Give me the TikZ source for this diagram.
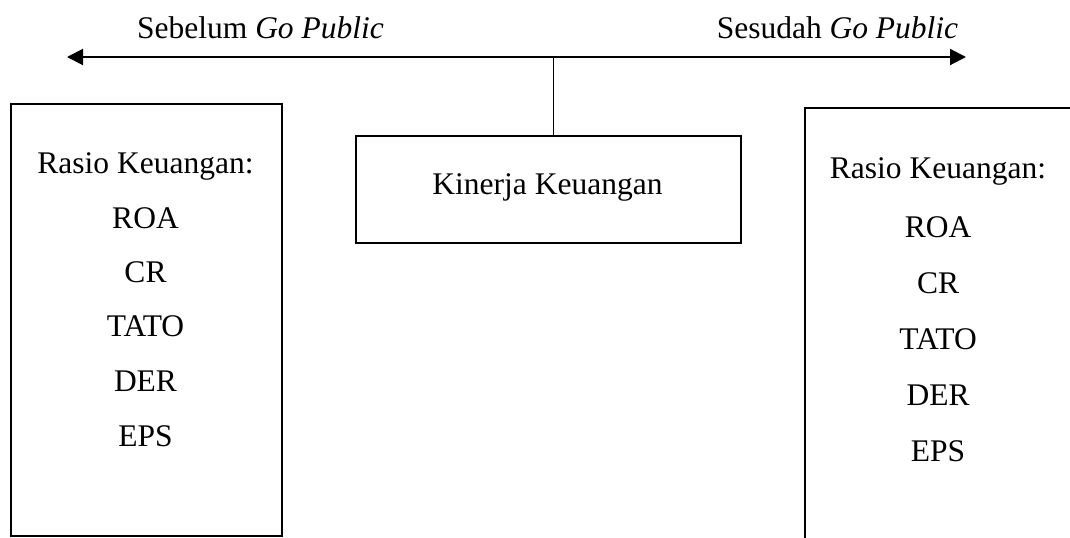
\documentclass[tikz,border=0pt]{standalone}
\usepackage{fontspec}
\setmainfont{Liberation Serif}
\usetikzlibrary{arrows.meta}
\tikzset{
  boxnode/.style={draw, line width=1pt, rectangle, inner sep=0pt, anchor=north west},
  txt/.style={anchor=base, inner sep=0pt, font=\fontsize{15.75}{19}\selectfont},
  axisline/.style={line width=1pt, {Triangle[length=8pt,width=8pt]}-{Triangle[length=8pt,width=8pt]}},
  link/.style={line width=0.5pt}
}
\begin{document}
\begin{tikzpicture}[x=0.5pt, y=-0.5pt]
\useasboundingbox (0,0) rectangle (1070,537);
\clip (0,0) rectangle (1070,537);
% axis with arrows
\coordinate (aL) at (67,57);
\coordinate (aR) at (966,57);
\coordinate (j) at (553,57);
\draw[axisline] (aL) -- (aR);
\node[txt] (tL) at (260.5,38) {Sebelum \textit{Go Public}};
\node[txt] (tR) at (837.5,38) {Sesudah \textit{Go Public}};
% boxes
\node[boxnode, minimum width=135.5pt, minimum height=216pt] (L) at (10,103) {};
\node[boxnode, minimum width=192.5pt, minimum height=53.5pt] (M) at (355,135) {};
\node[boxnode, minimum width=140pt, minimum height=225pt] (R) at (804,107) {};
\draw[link] (j) -- (j |- M.north);
% middle text
\node[txt] (mt) at (547.5,194) {Kinerja Keuangan};
% left box texts
\node[txt] (l0) at (145.5,173) {Rasio Keuangan:};
\node[txt] (l1) at (145.5,228) {ROA};
\node[txt] (l2) at (145.5,282) {CR};
\node[txt] (l3) at (145.5,336) {TATO};
\node[txt] (l4) at (145.5,391) {DER};
\node[txt] (l5) at (145.5,446) {EPS};
% right box texts
\node[txt] (r0) at (938,178) {Rasio Keuangan:};
\node[txt] (r1) at (938,237) {ROA};
\node[txt] (r2) at (938,293) {CR};
\node[txt] (r3) at (938,349) {TATO};
\node[txt] (r4) at (938,405) {DER};
\node[txt] (r5) at (938,461) {EPS};
\end{tikzpicture}
\end{document}
